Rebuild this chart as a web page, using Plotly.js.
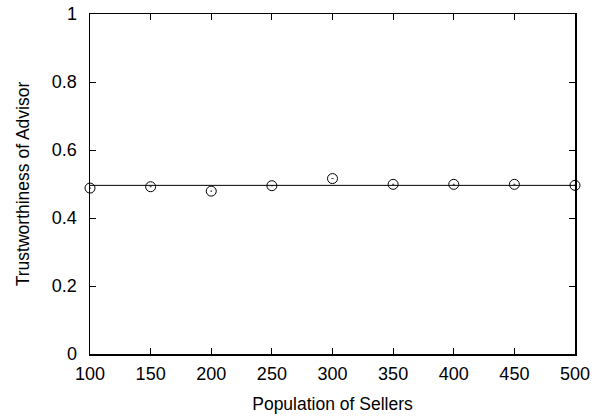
<!DOCTYPE html>
<html><head><meta charset="utf-8">
<script src="https://cdn.plot.ly/plotly-3.0.1.min.js"></script>
<style>html,body{margin:0;padding:0;background:#fff}#c{width:603px;height:418px}</style>
</head><body><div id="c"></div>
<script>
const sellers = [100,150,200,250,300,350,400,450,500];
const trust = [0.488,0.492,0.479,0.495,0.516,0.499,0.499,0.499,0.496];
const meanLevel = [0.496,0.496];
const lineX = [100,500];
const xTicks = [100,150,200,250,300,350,400,450,500];
const yTicks = [0,0.2,0.4,0.6,0.8,1];
const yTickText = ['0','0.2','0.4','0.6','0.8','1'];

const FONT = 'Liberation Sans, Arial, Helvetica, sans-serif';
const data = [
 {x: lineX, y: meanLevel, mode:'lines', line:{color:'#000', width:1}, hoverinfo:'skip'},
 {x: sellers, y: trust, mode:'markers', cliponaxis:false, marker:{symbol:'circle-open-dot', size:10, color:'#000', line:{width:1, color:'#000'}}}
];
const axisCommon = {showgrid:false, zeroline:false, showline:true, linecolor:'#000', linewidth:1.5, mirror:'allticks', ticks:'inside', ticklen:6, tickcolor:'#000', tickwidth:1, tickfont:{family:FONT, size:18, color:'#000'}};
const layout = {
 width:603, height:418, showlegend:false, paper_bgcolor:'#fff', plot_bgcolor:'#fff',
 margin:{l:90, r:28, t:14, b:64},
 xaxis: Object.assign({}, axisCommon, {range:[100,500], tickvals:xTicks, ticktext:xTicks.map(String), ticklabelstandoff:3,
   title:{text:'Population of Sellers', font:{family:FONT, size:17.5, color:'#000'}, standoff:14}}),
 yaxis: Object.assign({}, axisCommon, {range:[0,1], tickvals:yTicks, ticktext:yTickText, ticklabelstandoff:8,
   title:{text:'Trustworthiness of Advisor', font:{family:FONT, size:17.5, color:'#000'}, standoff:17}})
};
Plotly.newPlot('c', data, layout, {displayModeBar:false, staticPlot:true});
</script></body></html>
